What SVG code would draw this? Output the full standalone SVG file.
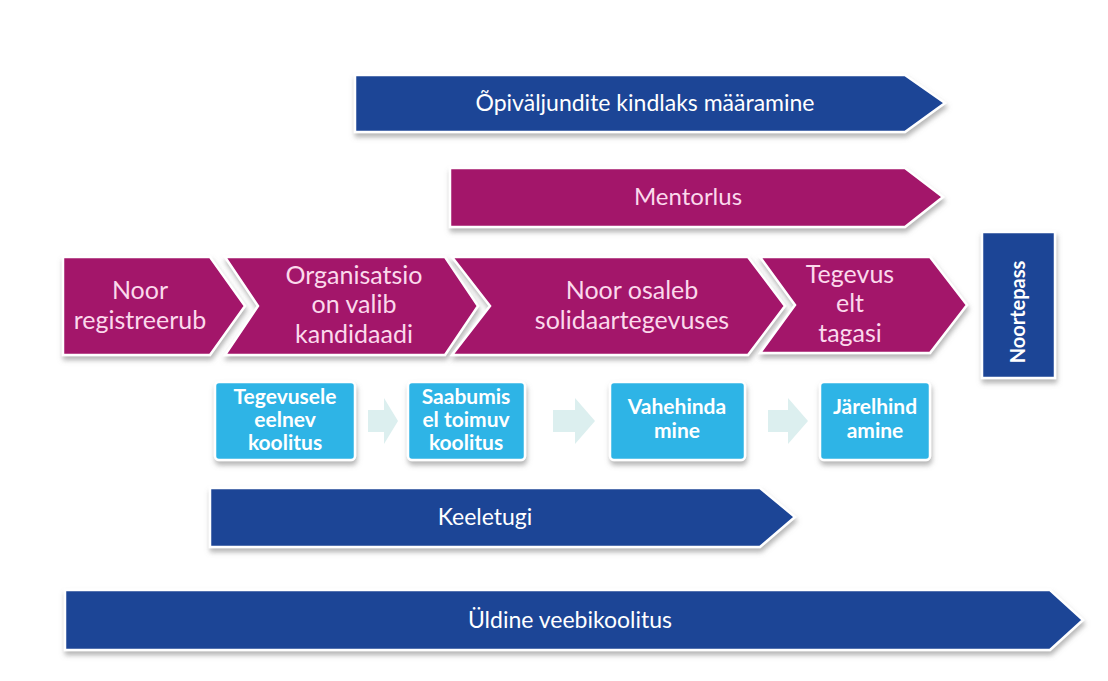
<svg xmlns="http://www.w3.org/2000/svg" width="1108" height="681" viewBox="0 0 1108 681">
<defs>
<filter id="sh" x="-10%" y="-20%" width="120%" height="150%">
<feDropShadow dx="1" dy="4" stdDeviation="2.5" flood-color="#7a7a7a" flood-opacity="0.55"/>
</filter>
<style>
.blue{fill:#1b4496;stroke:#ffffff;stroke-width:2.5;filter:url(#sh)}
.mag{fill:#a3146a;stroke:#ffffff;stroke-width:2.5;filter:url(#sh)}
.cyan{fill:#2fb4e6;stroke:#ffffff;stroke-width:2.5;filter:url(#sh)}
.small{fill:#dcefef}
text{font-family:"Lato","Open Sans","Liberation Sans",sans-serif;text-anchor:middle}
.tw{fill:#ffffff;font-size:23px}
.tp{fill:#fbd9ec;font-size:25px}
.tc{fill:#ffffff;font-size:21px;font-weight:bold}
.tv{fill:#ffffff;font-size:20px;font-weight:bold}
.tm{fill:#fbd9ec;font-size:24px}
</style>
</defs>
<rect width="1108" height="681" fill="#ffffff"/>
<g id="opivaljundid">
<polygon class="blue" points="355,75 905,75 945,103 905,132 355,132"/>
<text class="tw" x="645" y="111">Õpiväljundite kindlaks määramine</text>
</g>
<g id="mentorlus">
<polygon class="mag" points="450,168 905,168 943,197 905,227 450,227"/>
<text class="tm" x="688" y="205">Mentorlus</text>
</g>
<g id="noor-registreerub">
<polygon class="mag" points="63,257 210,257 245,306 210,355 63,355"/>
<text class="tp" x="140" y="299">Noor</text>
<text class="tp" x="140" y="329">registreerub</text>
</g>
<g id="organisatsioon">
<polygon class="mag" points="225,257 445,257 478,306 445,355 225,355 258,306"/>
<text class="tp" x="354" y="284">Organisatsio</text>
<text class="tp" x="354" y="313">on valib</text>
<text class="tp" x="354" y="343">kandidaadi</text>
</g>
<g id="noor-osaleb">
<polygon class="mag" points="452,257 748,257 785,306 748,355 452,355 490,306"/>
<text class="tp" x="632" y="299">Noor osaleb</text>
<text class="tp" x="632" y="329">solidaartegevuses</text>
</g>
<g id="tegevuselt-tagasi">
<polygon class="mag" points="760,257 930,257 967,305 930,353 760,353 795,305"/>
<text class="tp" x="850" y="283">Tegevus</text>
<text class="tp" x="850" y="312">elt</text>
<text class="tp" x="850" y="342">tagasi</text>
</g>
<g id="noortepass">
<rect class="blue" x="982" y="232" width="73" height="146"/>
<text class="tv" transform="translate(1025,312) rotate(-90)">Noortepass</text>
</g>
<g id="connectors">
<polygon class="small" points="368,410 384,410 384,398 398,421 384,444 384,432 368,432"/>
<polygon class="small" points="553,410 575,410 575,398 595,421 575,444 575,432 553,432"/>
<polygon class="small" points="768,410 788,410 788,398 808,421 788,444 788,432 768,432"/>
</g>
<g id="tegevusele-eelnev">
<rect class="cyan" x="215" y="382" width="140" height="78" rx="4"/>
<text class="tc" x="285" y="404">Tegevusele</text>
<text class="tc" x="285" y="427">eelnev</text>
<text class="tc" x="285" y="450">koolitus</text>
</g>
<g id="saabumisel">
<rect class="cyan" x="408" y="382" width="117" height="78" rx="4"/>
<text class="tc" x="466" y="404">Saabumis</text>
<text class="tc" x="466" y="427">el toimuv</text>
<text class="tc" x="466" y="450">koolitus</text>
</g>
<g id="vahehindamine">
<rect class="cyan" x="610" y="382" width="135" height="78" rx="4"/>
<text class="tc" x="677" y="414">Vahehinda</text>
<text class="tc" x="677" y="438">mine</text>
</g>
<g id="jarelhindamine">
<rect class="cyan" x="820" y="382" width="110" height="78" rx="4"/>
<text class="tc" x="875" y="414">Järelhind</text>
<text class="tc" x="875" y="438">amine</text>
</g>
<g id="keeletugi">
<polygon class="blue" points="210,488 760,488 795,517 760,547 210,547"/>
<text class="tw" x="485" y="525">Keeletugi</text>
</g>
<g id="uldine-veebikoolitus">
<polygon class="blue" points="65,590 1050,590 1083,620 1050,650 65,650"/>
<text class="tw" x="570" y="628">Üldine veebikoolitus</text>
</g>
</svg>
